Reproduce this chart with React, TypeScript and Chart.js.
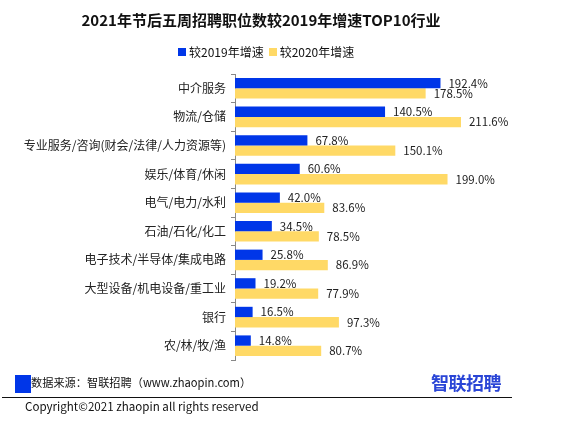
import React, { useEffect, useRef } from "react";
import { Chart, registerables } from "chart.js";

Chart.register(...registerables);

const categories = [
  "中介服务",
  "物流/仓储",
  "专业服务/咨询(财会/法律/人力资源等)",
  "娱乐/体育/休闲",
  "电气/电力/水利",
  "石油/石化/化工",
  "电子技术/半导体/集成电路",
  "大型设备/机电设备/重工业",
  "银行",
  "农/林/牧/渔",
];
const vs2019 = [192.4, 140.5, 67.8, 60.6, 42.0, 34.5, 25.8, 19.2, 16.5, 14.8];
const vs2020 = [178.5, 211.6, 150.1, 199.0, 83.6, 78.5, 86.9, 77.9, 97.3, 80.7];
const seriesNames = ["较2019年增速", "较2020年增速"];

const BLUE = "#0036e8";
const YELLOW = "#ffd966";
const FONT = "'Noto Sans CJK SC', 'Noto Sans', sans-serif";

const valueLabels = {
  id: "valueLabels",
  afterDatasetsDraw(chart: any) {
    const ctx = chart.ctx;
    ctx.save();
    ctx.font = `11.5px ${FONT}`;
    ctx.fillStyle = "#222";
    ctx.textBaseline = "middle";
    ctx.textAlign = "left";
    chart.data.datasets.forEach((ds: any, di: number) => {
      const meta = chart.getDatasetMeta(di);
      meta.data.forEach((el: any, i: number) => {
        ctx.fillText(Number(ds.data[i]).toFixed(1) + "%", el.x + 8, el.y);
      });
    });
    ctx.restore();
  },
};

export default function App() {
  const ref = useRef<HTMLCanvasElement>(null);
  useEffect(() => {
    const chart = new Chart(ref.current!, {
      type: "bar",
      data: {
        labels: categories,
        datasets: [
          { label: seriesNames[0], data: vs2019, backgroundColor: BLUE, barPercentage: 1, categoryPercentage: 0.72 },
          { label: seriesNames[1], data: vs2020, backgroundColor: YELLOW, barPercentage: 1, categoryPercentage: 0.72 },
        ],
      },
      options: {
        indexAxis: "y",
        responsive: false,
        animation: false,
        layout: { padding: { top: 74, bottom: 68, left: 0, right: 61 } },
        plugins: { legend: { display: false }, title: { display: false }, tooltip: { enabled: false } },
        scales: {
          x: { display: false, min: 0, max: 250 },
          y: {
            afterFit: (s: any) => { s.width = 235; },
            border: { display: true, color: "#888", width: 1 },
            grid: { display: true, drawOnChartArea: false, tickLength: 4, color: "#888", offset: true },
            ticks: { color: "#222", font: { size: 12, family: FONT }, padding: 5 },
          },
        },
      },
      plugins: [valueLabels],
    });
    return () => chart.destroy();
  }, []);

  const text: React.CSSProperties = { position: "absolute", fontFamily: FONT, color: "#111", whiteSpace: "nowrap" };
  return (
    <div style={{ position: "fixed", left: 0, top: 0, width: 563, height: 428, background: "#fff", overflow: "hidden" }}>
      <canvas ref={ref} width={563} height={428} style={{ position: "absolute", left: 0, top: 0 }} />
      <div style={{ ...text, left: 0, width: 522, top: 8, textAlign: "center", fontWeight: "bold", fontSize: 15, lineHeight: "24px" }}>
        2021年节后五周招聘职位数较2019年增速TOP10行业
      </div>
      <div style={{ ...text, left: 178, top: 44, fontSize: 12, lineHeight: "16px", display: "flex", alignItems: "center" }}>
        <span style={{ display: "inline-block", width: 8, height: 8, background: BLUE, marginRight: 3 }} />
        <span>{seriesNames[0]}</span>
        <span style={{ display: "inline-block", width: 8, height: 8, background: YELLOW, marginLeft: 5, marginRight: 3 }} />
        <span>{seriesNames[1]}</span>
      </div>
      <div style={{ position: "absolute", left: 15, top: 375, width: 16, height: 18, background: BLUE }} />
      <div style={{ ...text, left: 31, top: 374, fontSize: 11.2, lineHeight: "16px" }}>数据来源：智联招聘（www.zhaopin.com）</div>
      <div style={{ ...text, left: 431, top: 370, fontSize: 18, lineHeight: "24px", fontWeight: "bold", color: "#2a45d6", letterSpacing: -0.5 }}>智联招聘</div>
      <div style={{ position: "absolute", left: 2, top: 397, width: 510, height: 1, background: "#111" }} />
      <div style={{ ...text, left: 25, top: 398, fontSize: 11.6, lineHeight: "16px" }}>Copyright©2021 zhaopin all rights reserved</div>
    </div>
  );
}
